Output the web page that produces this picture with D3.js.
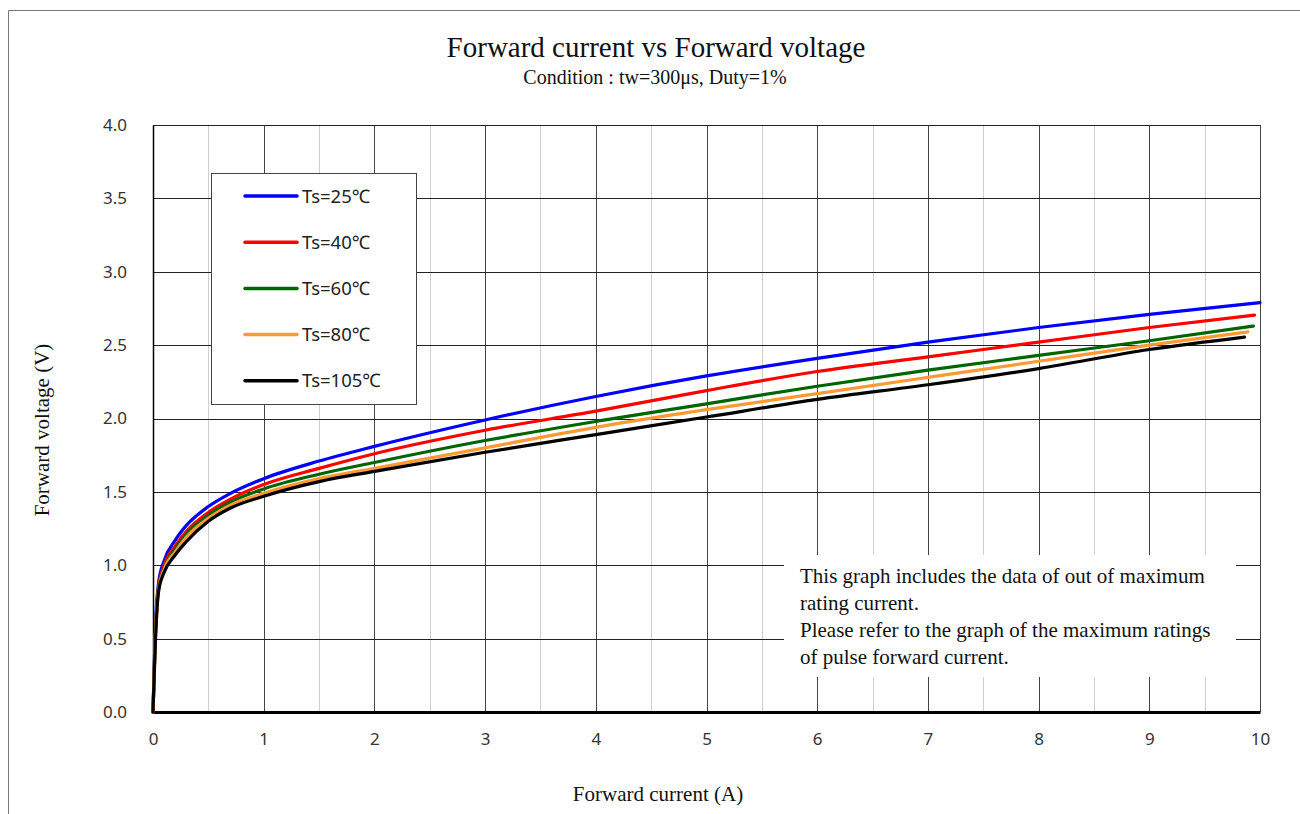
<!DOCTYPE html>
<html><head><meta charset="utf-8">
<script src="https://cdn.jsdelivr.net/npm/d3@7"></script>
<style>body{margin:0;background:#fff}svg{display:block}</style>
</head><body>
<svg id="c" width="1300" height="814"></svg>
<script>
const currents = [0, 0.02, 0.05, 0.1, 0.2, 0.3, 0.5, 0.7, 1, 1.5, 2, 3, 4, 5, 6, 7, 8, 9];
const seriesNames = ["Ts=25℃", "Ts=40℃", "Ts=60℃", "Ts=80℃", "Ts=105℃"];
const seriesColors = ["#0000ff", "#ff0000", "#006400", "#ff9933", "#000000"];
const endCurrents = [10.0, 9.95, 9.94, 9.89, 9.86];
const v25  = [0, 0.55, 0.88, 1.03, 1.17, 1.27, 1.40, 1.49, 1.59, 1.71, 1.81, 1.99, 2.15, 2.29, 2.41, 2.52, 2.62, 2.71, 2.79];
const v40  = [0, 0.50, 0.85, 1.00, 1.13, 1.23, 1.36, 1.45, 1.55, 1.66, 1.76, 1.92, 2.05, 2.19, 2.32, 2.42, 2.52, 2.62, 2.705];
const v60  = [0, 0.50, 0.84, 0.98, 1.11, 1.21, 1.34, 1.43, 1.52, 1.62, 1.70, 1.85, 1.98, 2.10, 2.22, 2.33, 2.43, 2.53, 2.63];
const v80  = [0, 0.48, 0.83, 0.97, 1.09, 1.19, 1.32, 1.41, 1.49, 1.59, 1.66, 1.80, 1.94, 2.06, 2.17, 2.28, 2.39, 2.50, 2.59];
const v105 = [0, 0.45, 0.82, 0.95, 1.07, 1.16, 1.30, 1.39, 1.47, 1.57, 1.64, 1.77, 1.89, 2.01, 2.13, 2.23, 2.34, 2.47, 2.555];
const seriesValues = [v25, v40, v60, v80, v105];
const xTicks = [0,1,2,3,4,5,6,7,8,9,10];
const yTicks = [0,0.5,1,1.5,2,2.5,3,3.5,4];
const title = "Forward current vs Forward voltage";
const subtitle = "Condition : tw=300μs, Duty=1%";
const xTitle = "Forward current (A)";
const yTitle = "Forward voltage (V)";
const note = ["This graph includes the data of out of maximum", "rating current.", "Please refer to the graph of the maximum ratings", "of pulse forward current."];

const svg = d3.select("#c");
const L = 153, R = 1260, T = 125, B = 712;
const x = d3.scaleLinear().domain([0, 10]).range([L, R]);
const y = d3.scaleLinear().domain([0, 4]).range([B, T]);
const serif = "'Liberation Serif','Times New Roman',serif";
const sans = "'Noto Sans','DejaVu Sans',sans-serif";

// outer frame
svg.append("path").attr("d", "M8.5,814 V10.5 H1300").attr("fill","none").attr("stroke","#777").attr("stroke-width",1);

// grid
const g = svg.append("g");
g.selectAll(".vmin").data(d3.range(0.5, 10, 1)).join("line")
  .attr("x1", d => Math.round(x(d))+0.5).attr("x2", d => Math.round(x(d))+0.5)
  .attr("y1", T).attr("y2", B).attr("stroke", "#cfcfcf").attr("stroke-width", 1);
g.selectAll(".vmaj").data(xTicks.slice(1)).join("line")
  .attr("x1", d => Math.round(x(d))+0.5).attr("x2", d => Math.round(x(d))+0.5)
  .attr("y1", T).attr("y2", B).attr("stroke", "#444").attr("stroke-width", 1);
g.selectAll(".h").data(yTicks.slice(1)).join("line")
  .attr("x1", L).attr("x2", R)
  .attr("y1", d => Math.round(y(d))+0.5).attr("y2", d => Math.round(y(d))+0.5)
  .attr("stroke", "#222").attr("stroke-width", 1);

// axes via d3
const xAxis = svg.append("g").attr("transform", `translate(0,${B})`)
  .call(d3.axisBottom(x).tickValues(xTicks).tickSize(0).tickPadding(21).tickFormat(d3.format("d")));
xAxis.select(".domain").attr("stroke","#000").attr("stroke-width",3);
xAxis.selectAll("text").attr("font-family", sans).attr("font-size", 17).attr("fill","#333");
const yAxis = svg.append("g").attr("transform", `translate(${L},0)`)
  .call(d3.axisLeft(y).tickValues(yTicks).tickSize(0).tickPadding(26).tickFormat(d3.format(".1f")));
yAxis.select(".domain").attr("stroke","#000").attr("stroke-width",1.5);
yAxis.selectAll("text").attr("font-family", sans).attr("font-size", 17).attr("fill","#333");

// curves
const line = d3.line().x(d => x(d[0])).y(d => y(d[1])).curve(d3.curveMonotoneX);
seriesValues.forEach((vals, i) => {
  const cur = currents.concat([endCurrents[i]]);
  const pts = vals.map((v, j) => [cur[j], v]);
  svg.append("path").datum(pts).attr("d", line)
    .attr("fill","none").attr("stroke", seriesColors[i]).attr("stroke-width", 3.2)
    .attr("stroke-linecap","round").attr("stroke-linejoin","round");
});

// legend
const lg = svg.append("g");
lg.append("rect").attr("x", 211.5).attr("y", 173.5).attr("width", 205).attr("height", 231)
  .attr("fill","#fff").attr("stroke","#444").attr("stroke-width",1);
seriesNames.forEach((n, i) => {
  const yy = 196 + i * 46.2;
  lg.append("line").attr("x1", 245).attr("x2", 297).attr("y1", yy).attr("y2", yy)
    .attr("stroke", seriesColors[i]).attr("stroke-width", 3.5).attr("stroke-linecap","round");
  lg.append("text").attr("x", 302).attr("y", yy).attr("dy","0.36em")
    .attr("font-family", sans).attr("font-size", 18.5).attr("fill","#222").text(n);
});

// note box
svg.append("rect").attr("x", 784).attr("y", 555).attr("width", 452).attr("height", 122).attr("fill","#fff");
svg.append("g").selectAll("text").data(note).join("text")
  .attr("x", 800).attr("y", (d,i) => 583 + i*27)
  .attr("font-family", serif).attr("font-size", 21).attr("fill","#111").text(d => d);

// titles
svg.append("text").attr("x", 656).attr("y", 57).attr("text-anchor","middle")
  .attr("font-family", serif).attr("font-size", 29).attr("fill","#111").text(title);
svg.append("text").attr("x", 655).attr("y", 84).attr("text-anchor","middle")
  .attr("font-family", serif).attr("font-size", 20).attr("fill","#111").text(subtitle);
svg.append("text").attr("x", 658).attr("y", 801).attr("text-anchor","middle")
  .attr("font-family", serif).attr("font-size", 21).attr("fill","#111").text(xTitle);
svg.append("text").attr("transform","translate(49,430) rotate(-90)").attr("text-anchor","middle")
  .attr("font-family", serif).attr("font-size", 21).attr("fill","#111").text(yTitle);
</script>
</body></html>
